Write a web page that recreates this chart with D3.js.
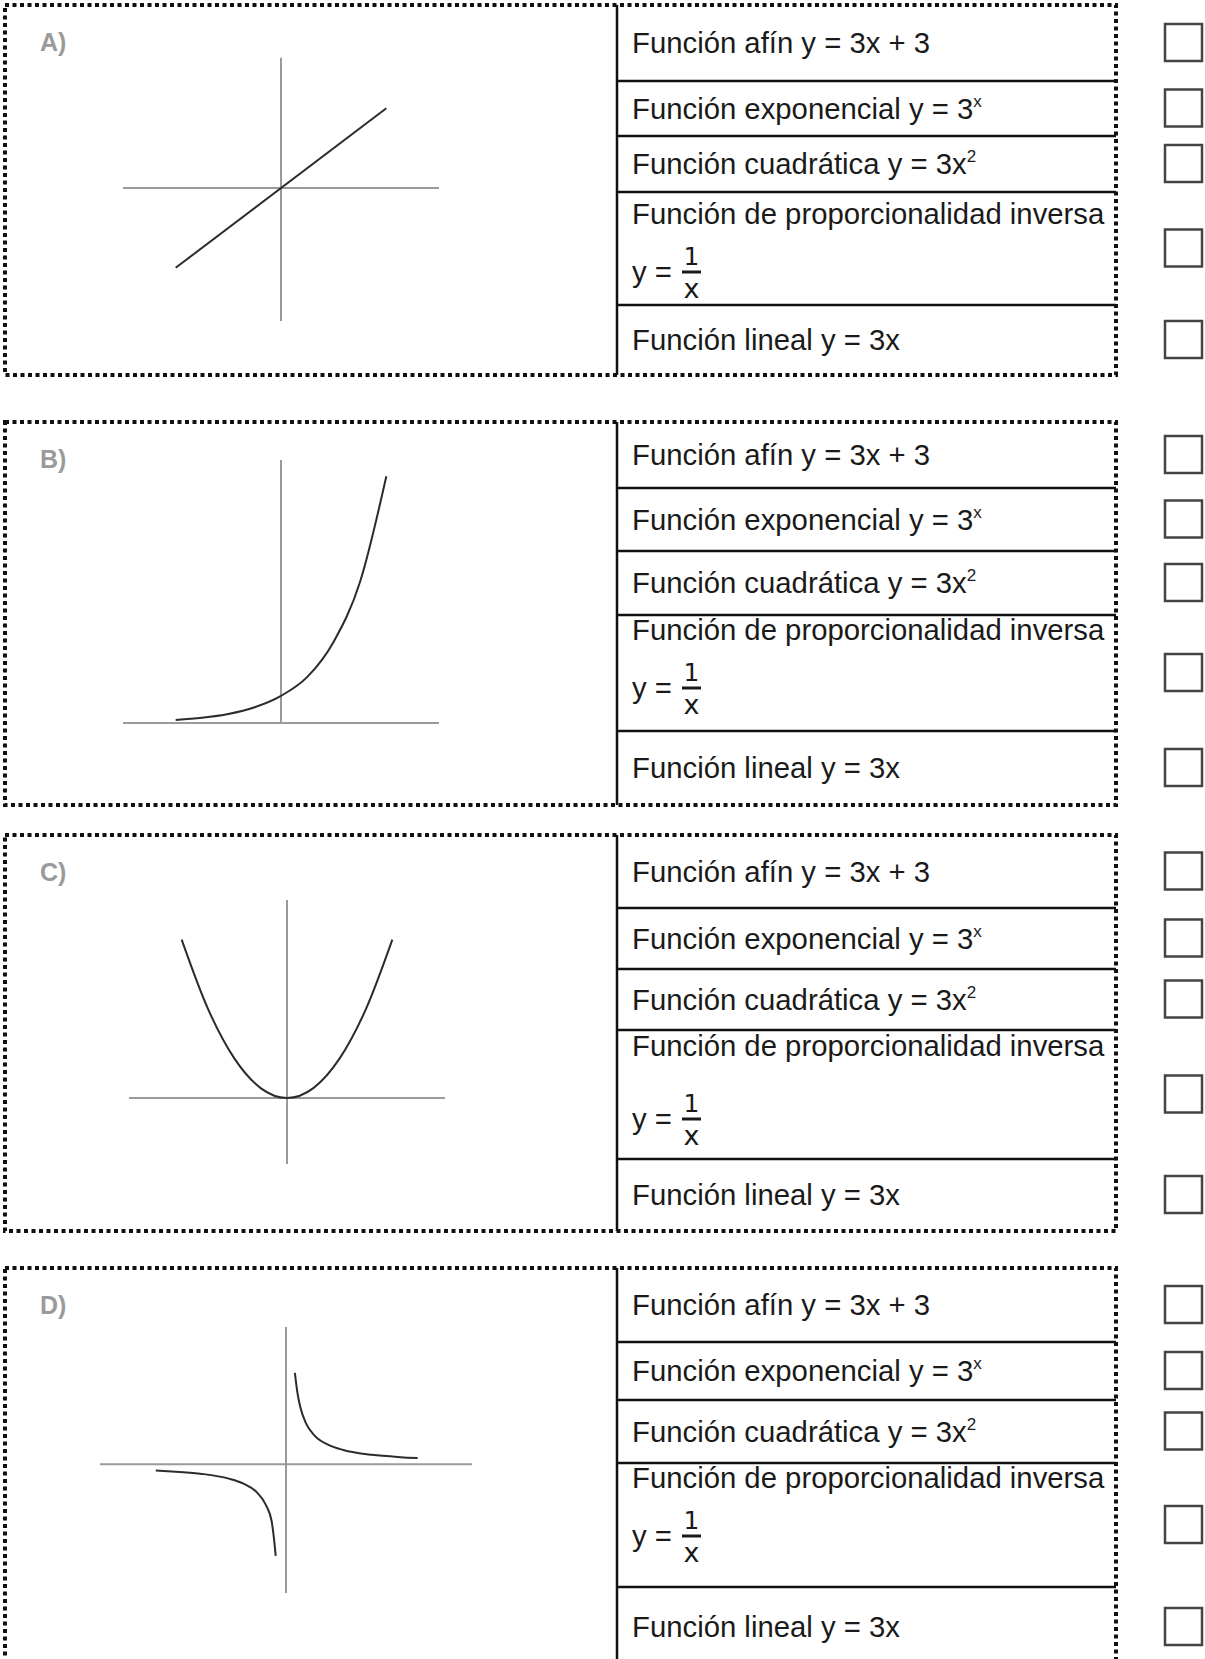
<!DOCTYPE html>
<html>
<head>
<meta charset="utf-8">
<script src="https://cdn.jsdelivr.net/npm/d3@7"></script>
<style>
	body { margin: 0; background: #fff; }
</style>
</head>
<body>
<script>
// etiquetas de los paneles
const panelLabels = ["A)", "B)", "C)", "D)"];

// opciones de cada tabla (texto y exponente)
const optionText = [
	"Función afín y = 3x + 3",
	"Función exponencial y = 3",
	"Función cuadrática y = 3x",
	"Función de proporcionalidad inversa",
	"Función lineal y = 3x"
];
const optionSup = ["", "x", "2", "", ""];
const fracLead = "y = ", fracNum = "1", fracDen = "x";

// puntos [x, y]
const lineA = [[-1, -3], [1, 3]];
const expB = [[-2, 0.11], [-1.5, 0.19], [-1, 0.33], [-0.5, 0.58], [0, 1], [0.5, 1.7], [1, 3], [1.5, 5.2], [2, 9.1]];
const quadC = [[-2, 12], [-1.5, 6.75], [-1, 3], [-0.5, 0.75], [0, 0], [0.5, 0.75], [1, 3], [1.5, 6.75], [2, 12]];
const invLeft = [[-4.55, -0.22], [-4, -0.25], [-3, -0.33], [-2, -0.5], [-1.5, -0.67], [-1, -1], [-0.7, -1.43], [-0.5, -2], [-0.42, -2.6], [-0.36, -3.2]];
const invRight = [[0.31, 3.2], [0.4, 2.5], [0.5, 2], [0.7, 1.43], [1, 1], [1.5, 0.67], [2, 0.5], [3, 0.33], [4, 0.25], [4.6, 0.22]];

// disposición
const W = 1205, H = 1659;
const panelTop = [5, 422, 835, 1268];
const rowHeights = [
	[76, 55, 56, 113, 70],
	[66, 63, 64, 116, 74],
	[73, 61, 61, 129, 72],
	[74, 58, 63, 124, 80]
];
// centro de la primera línea y del signo "=" en la fila de la fracción
const fracOffsets = [[22, 80], [15, 73], [16, 89], [15, 73]];
const boxLeft = 5, boxRight = 1116, tableX = 617, textX = 632;

const plots = [
	{ x: [-1.5, 1.5], px: [123, 439], y: [-5, 5], py: [321, 55], vy: [-5, 4.9], curves: [lineA] },
	{ x: [-3, 3], px: [123, 439], y: [0, 9.7], py: [723, 460], vy: [0, 9.7], curves: [expB] },
	{ x: [-3, 3], px: [129, 445], y: [-5, 15], py: [1164, 900], vy: [-5, 15], curves: [quadC] },
	{ x: [-6.5, 6.5], px: [100, 472], y: [-4.5, 4.8], py: [1593, 1327], vy: [-4.5, 4.8], curves: [invLeft, invRight] }
];

const font = "'Liberation Sans', Arial, sans-serif";
const fontSize = "29.3px";
const ink = "#1a1a1a";

const svg = d3.select("body")
	.append("svg")
	.attr("width", W)
	.attr("height", H);

panelLabels.forEach((label, p) => {
	const top = panelTop[p];
	const rows = rowHeights[p];
	const bottom = top + d3.sum(rows);
	const g = svg.append("g");

	// borde punteado
	g.append("rect")
		.attr("x", boxLeft)
		.attr("y", top)
		.attr("width", boxRight - boxLeft)
		.attr("height", bottom - top)
		.attr("fill", "none")
		.attr("stroke", "#111")
		.attr("stroke-width", 4)
		.attr("stroke-dasharray", "4,3.5");

	// etiqueta
	g.append("text")
		.attr("x", 40)
		.attr("y", top + 46)
		.attr("font-family", font)
		.attr("font-weight", "bold")
		.attr("font-size", "25px")
		.attr("fill", "#9a9a9a")
		.text(label);

	// gráfica
	const cfg = plots[p];
	const xScale = d3.scaleLinear().domain(cfg.x).range(cfg.px);
	const yScale = d3.scaleLinear().domain(cfg.y).range(cfg.py);

	g.append("line")
		.attr("x1", xScale(cfg.x[0]))
		.attr("x2", xScale(cfg.x[1]))
		.attr("y1", yScale(0))
		.attr("y2", yScale(0))
		.attr("stroke", "#9a9a9a")
		.attr("stroke-width", 2);

	g.append("line")
		.attr("x1", xScale(0))
		.attr("x2", xScale(0))
		.attr("y1", yScale(cfg.vy[0]))
		.attr("y2", yScale(cfg.vy[1]))
		.attr("stroke", "#9a9a9a")
		.attr("stroke-width", 2);

	const line = d3.line()
		.x(d => xScale(d[0]))
		.y(d => yScale(d[1]))
		.curve(d3.curveMonotoneX);

	cfg.curves.forEach(c => {
		g.append("path")
			.attr("d", line(c))
			.attr("fill", "none")
			.attr("stroke", "#2b2b2b")
			.attr("stroke-width", 2);
	});

	// tabla
	const bounds = [top];
	rows.forEach(h => bounds.push(bounds[bounds.length - 1] + h));

	g.append("line")
		.attr("x1", tableX)
		.attr("x2", tableX)
		.attr("y1", top)
		.attr("y2", bottom)
		.attr("stroke", "#111")
		.attr("stroke-width", 2.5);

	bounds.slice(1, -1).forEach(y => {
		g.append("line")
			.attr("x1", tableX)
			.attr("x2", boxRight)
			.attr("y1", y)
			.attr("y2", y)
			.attr("stroke", "#111")
			.attr("stroke-width", 2.5);
	});

	optionText.forEach((t, i) => {
		const rTop = bounds[i], rBot = bounds[i + 1];
		const mid = (rTop + rBot) / 2;

		if (i === 3) {
			const [o1, o2] = fracOffsets[p];

			g.append("text")
				.attr("x", textX)
				.attr("y", rTop + o1 + 10)
				.attr("font-family", font)
				.attr("font-size", fontSize)
				.attr("fill", ink)
				.text(t);

			const eq = rTop + o2;
			g.append("text")
				.attr("x", textX)
				.attr("y", eq + 10)
				.attr("font-family", font)
				.attr("font-size", fontSize)
				.attr("fill", ink)
				.text(fracLead);
			g.append("line")
				.attr("x1", 682)
				.attr("x2", 701)
				.attr("y1", eq)
				.attr("y2", eq)
				.attr("stroke", ink)
				.attr("stroke-width", 3);
			g.append("text")
				.attr("x", 691.5)
				.attr("y", eq - 7)
				.attr("text-anchor", "middle")
				.attr("font-family", "'DejaVu Sans', sans-serif")
				.attr("font-size", "25px")
				.attr("fill", ink)
				.text(fracNum);
			g.append("text")
				.attr("x", 691.5)
				.attr("y", eq + 26)
				.attr("text-anchor", "middle")
				.attr("font-family", "'DejaVu Sans', sans-serif")
				.attr("font-size", "27px")
				.attr("fill", ink)
				.text(fracDen);
		} else {
			const txt = g.append("text")
				.attr("x", textX)
				.attr("y", mid + 10)
				.attr("font-family", font)
				.attr("font-size", fontSize)
				.attr("fill", ink)
				.text(t);
			if (optionSup[i]) {
				txt.append("tspan")
					.attr("dy", -12)
					.attr("font-size", "17px")
					.text(optionSup[i]);
			}
		}

		// casilla
		g.append("rect")
			.attr("x", 1165)
			.attr("y", mid - 19)
			.attr("width", 37)
			.attr("height", 37)
			.attr("fill", "#fff")
			.attr("stroke", "#444")
			.attr("stroke-width", 2.5);
	});
});
</script>
</body>
</html>
